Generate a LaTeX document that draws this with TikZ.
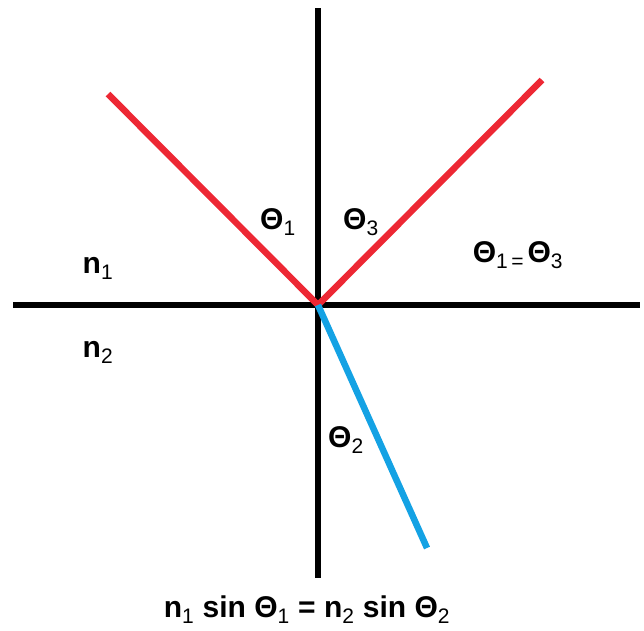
\documentclass[tikz,border=0pt]{standalone}
\usepackage{fontspec}
\setmainfont{Liberation Sans}
\definecolor{rayred}{RGB}{237,40,52}
\definecolor{rayblue}{RGB}{20,162,228}
\begin{document}
\begin{tikzpicture}[x=1pt,y=-1pt,
  axis/.style={line width=6pt,black},
  ray/.style={line width=6.5pt},
  lbl/.style={font=\fontsize{30}{33}\selectfont\bfseries,inner sep=0pt}]
\useasboundingbox (0,0) rectangle (644,630);
\coordinate (O) at (318,305);
\coordinate (L) at (13,305);
\coordinate (R) at (640,305);
\coordinate (T) at (318,8);
\coordinate (B) at (318,578);
\coordinate (I) at (108,94);
\coordinate (F) at (542,80);
\coordinate (E) at (427,548);
\draw[axis] (L) -- (R);
\draw[axis] (T) -- (B);
\draw[ray,rayred] (I) -- (O) -- (F);
\draw[ray,rayblue] (O) -- (E);
\node[lbl] (t1) at (278,222) {Θ\textsubscript{\mdseries 1}};
\node[lbl] (t3) at (361,222) {Θ\textsubscript{\mdseries 3}};
\node[lbl] (eq) at (518,255) {Θ\textsubscript{\mdseries 1\,=\,}Θ\textsubscript{\mdseries 3}};
\node[lbl] (n1) at (98,268) {n\textsubscript{\mdseries 1}};
\node[lbl] (n2) at (98,352) {n\textsubscript{\mdseries 2}};
\node[lbl] (t2) at (346,440) {Θ\textsubscript{\mdseries 2}};
\node[lbl] (law) at (307,610) {n\textsubscript{\mdseries 1} sin Θ\textsubscript{\mdseries 1} = n\textsubscript{\mdseries 2} sin Θ\textsubscript{\mdseries 2}};
\end{tikzpicture}
\end{document}
